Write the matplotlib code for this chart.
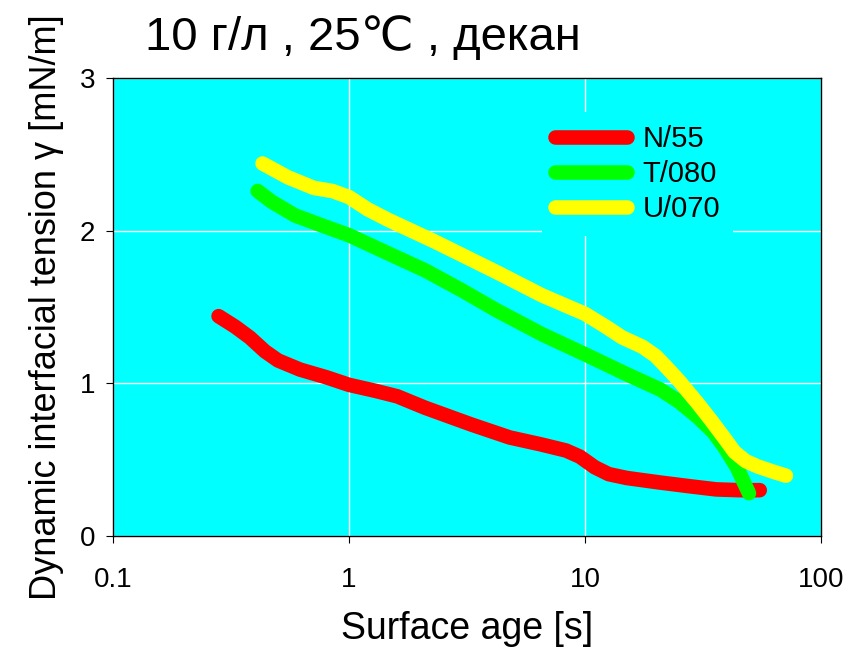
import matplotlib
matplotlib.use('Agg')
import matplotlib.pyplot as plt

plt.rcParams['font.family'] = ['Liberation Sans', 'DejaVu Sans']

# Data (surface age in s, tension in mN/m)
n55_t = [0.28, 0.33, 0.38, 0.44, 0.50, 0.62, 0.80, 1.0, 1.3, 1.6, 2.1, 3.3, 4.8, 6.5, 8.3, 9.5, 11.0, 12.6, 15.0, 20.8, 28.0, 36.0, 45.0, 55.0]
n55_g = [1.44, 1.37, 1.30, 1.21, 1.15, 1.09, 1.04, 0.99, 0.95, 0.915, 0.84, 0.73, 0.645, 0.60, 0.56, 0.52, 0.45, 0.405, 0.38, 0.35, 0.325, 0.305, 0.30, 0.30]

t080_t = [0.41, 0.47, 0.59, 0.75, 1.0, 1.47, 2.1, 3.0, 4.2, 6.6, 10.0, 15.0, 20.8, 25.0, 30.0, 35.0, 39.0, 44.0, 49.5]
t080_g = [2.26, 2.19, 2.10, 2.04, 1.97, 1.85, 1.74, 1.61, 1.48, 1.32, 1.19, 1.06, 0.96, 0.88, 0.78, 0.68, 0.58, 0.45, 0.28]

u070_t = [0.43, 0.55, 0.71, 0.85, 1.0, 1.2, 1.47, 2.3, 4.2, 6.6, 10.0, 12.0, 14.4, 17.5, 19.9, 22.0, 24.9, 30.0, 34.3, 39.0, 43.0, 48.0, 54.0, 63.0, 71.0]
u070_g = [2.44, 2.35, 2.28, 2.26, 2.22, 2.14, 2.07, 1.93, 1.73, 1.575, 1.455, 1.38, 1.30, 1.24, 1.18, 1.11, 1.02, 0.87, 0.755, 0.64, 0.55, 0.49, 0.455, 0.42, 0.395]

labels = ['N/55', 'T/080', 'U/070']
colors = ['#ff0000', '#00ff00', '#ffff00']

fig = plt.figure(figsize=(8.48, 6.47), dpi=100)
ax = fig.add_axes([0.1333, 0.1716, 0.8349, 0.7078])
ax.set_facecolor('#00ffff')

series = [(n55_t, n55_g), (t080_t, t080_g), (u070_t, u070_g)]
for (t, g), lab, c in zip(series, labels, colors):
    ax.plot(t, g, color=c, lw=10.5, solid_capstyle='round',
            solid_joinstyle='round', label=lab)

ax.set_xscale('log')
ax.set_xlim(0.1, 100)
ax.set_ylim(0, 3)
ax.set_xticks([0.1, 1, 10, 100])
ax.set_xticklabels(['0.1', '1', '10', '100'])
ax.set_yticks([0, 1, 2, 3])
ax.minorticks_off()
ax.grid(True, color='white', lw=1)
ax.set_axisbelow(True)
ax.tick_params(labelsize=20, length=5, direction='out', color='black')
ax.tick_params(axis='x', pad=17)
ax.tick_params(axis='y', pad=8)
for s in ax.spines.values():
    s.set_color('black')
    s.set_linewidth(1)

ax.set_xlabel('Surface age [s]', fontsize=27, labelpad=13)
ax.set_ylabel('Dynamic interfacial tension γ [mN/m]', fontsize=26, labelpad=11)
fig.text(0.171, 0.923, '10 г/л , 25℃ , декан', fontsize=34, ha='left', va='baseline')

leg = ax.legend(loc='upper left', bbox_to_anchor=(0.606, 0.926), fontsize=21,
                handlelength=2.45, frameon=True, facecolor='#00ffff',
                edgecolor='none', framealpha=1, borderpad=0.45,
                labelspacing=0.24, handletextpad=0.55, fancybox=False,
                borderaxespad=0)

fig.savefig('out.png', dpi=100)
